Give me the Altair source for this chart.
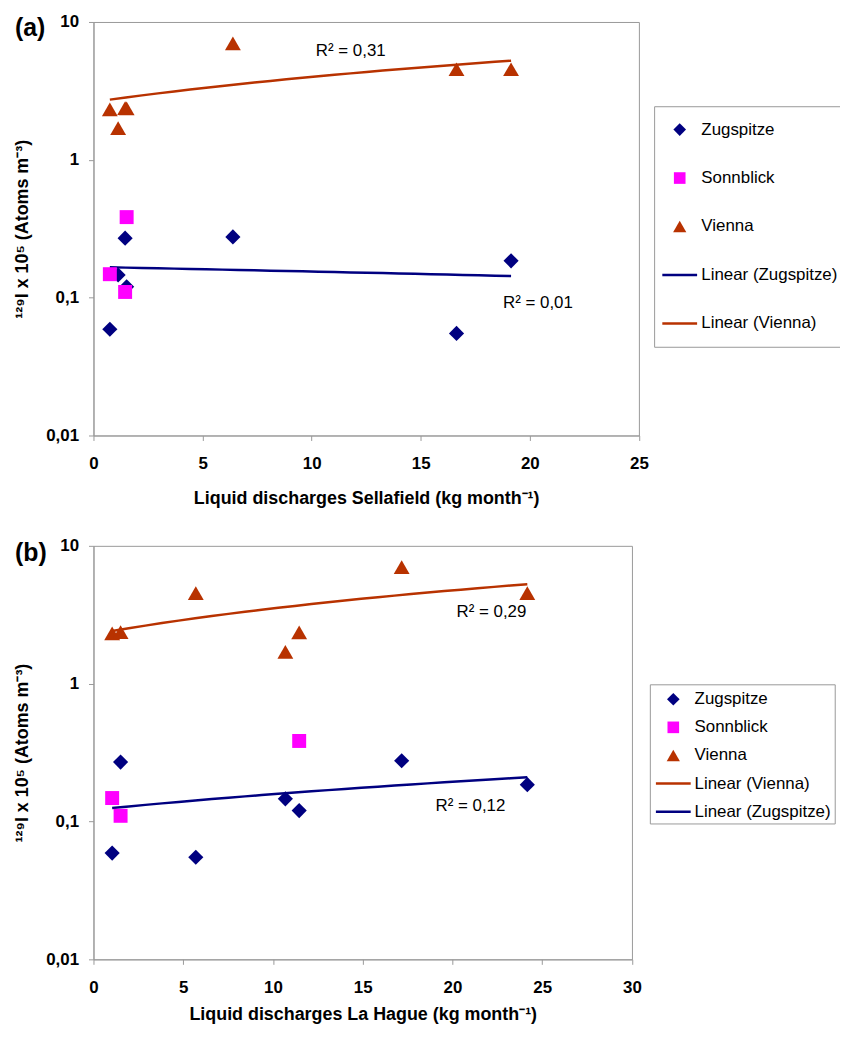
import altair as alt
import pandas as pd

# ---- data (same months in both panels) ----
sellafield = [0.75, 1.13, 1.52, 1.45, 6.39, 16.64, 19.14]   # kg month-1
la_hague = [1.04, 10.69, 11.46, 1.51, 17.17, 5.70, 24.17]   # kg month-1
zugspitze = [0.059, 0.146, 0.120, 0.270, 0.276, 0.055, 0.185]
sonnblick = [0.148, None, 0.384, 0.110, None, None, None]
vienna = [2.32, 1.70, 2.36, 2.37, 7.00, 4.54, 4.54]

stations = ["Zugspitze", "Sonnblick", "Vienna"]
station_values = [zugspitze, sonnblick, vienna]

order_a = ["Zugspitze", "Sonnblick", "Vienna", "Linear (Zugspitze)", "Linear (Vienna)"]
order_b = ["Zugspitze", "Sonnblick", "Vienna", "Linear (Vienna)", "Linear (Zugspitze)"]

r2_a_x = [11.79, 20.37]
r2_a_y = [6.15, 0.0912]
r2_a_txt = ["R² = 0,31", "R² = 0,01"]
r2_b_x = [22.17, 21.0]
r2_b_y = [3.30, 0.129]
r2_b_txt = ["R² = 0,29", "R² = 0,12"]

y_ticks = [0.01, 0.1, 1, 10]

COLORS = {
    "Zugspitze": "#000080",
    "Sonnblick": "#FF00FF",
    "Vienna": "#B83200",
    "Linear (Zugspitze)": "#000080",
    "Linear (Vienna)": "#B83200",
}
FONT = "Liberation Sans"
YTITLE = "¹²⁹I x 10⁵ (Atoms m⁻³)"


def symbol_paths(u):
    """Marker outlines in Vega's unit space, for a legend symbol radius u (px)."""
    d = 6.35 / u
    s = 5.85 / u
    tw, th = 6.65 / u, 5.75 / u
    ll, lt = 17.5 / u, 1.25 / u
    return {
        "Zugspitze": f"M0,{-d:.4f}L{d:.4f},0L0,{d:.4f}L{-d:.4f},0Z",
        "Sonnblick": f"M{-s:.4f},{-s:.4f}H{s:.4f}V{s:.4f}H{-s:.4f}Z",
        "Vienna": f"M0,{-th:.4f}L{tw:.4f},{th:.4f}H{-tw:.4f}Z",
        "line": f"M{-ll:.4f},{-lt:.4f}H{ll:.4f}V{lt:.4f}H{-ll:.4f}Z",
    }


def panel(xvals, xmax, width, xtitle, xtitle_pad, letter, letter_x, letter_y, order,
          lx, ly, u, pad, row_pad, sym_off, lab_off, r2x, r2y, r2t):
    rows = []
    for name, vals in zip(stations, station_values):
        for xv, yv in zip(xvals, vals):
            if yv is not None:
                rows.append({"x": xv, "y": yv, "series": name})
    df = pd.DataFrame(rows)

    paths = symbol_paths(u)
    shape_range = [paths.get(n, paths["line"]) for n in order]
    color_range = [COLORS[n] for n in order]

    x_enc = alt.X("x:Q", title=xtitle,
                  scale=alt.Scale(domain=[0, xmax], nice=False, zero=False),
                  axis=alt.Axis(values=list(range(0, xmax + 1, 5)), labelFlush=False,
                                titlePadding=xtitle_pad))
    y_enc = alt.Y("y:Q", title=YTITLE,
                  scale=alt.Scale(type="log", domain=[0.01, 10], nice=False),
                  axis=alt.Axis(values=y_ticks,
                                labelExpr="replace(toString(datum.value), '.', ',')"))

    leg = alt.Legend(orient="none", legendX=lx, legendY=ly, title=None,
                     padding=pad, symbolSize=(2 * u) ** 2, rowPadding=row_pad,
                     symbolOffset=sym_off, labelOffset=lab_off,
                     labelFont=FONT, labelFontSize=17, labelColor="black",
                     labelLimit=400, symbolStrokeWidth=0,
                     strokeColor="#999999", fillColor="white")

    trend_order = [n for n in order if n.startswith("Linear")]
    trend = (
        alt.Chart(df)
        .transform_filter(alt.FieldOneOfPredicate(field="series", oneOf=["Zugspitze", "Vienna"]))
        .transform_regression("x", "y", groupby=["series"], method="poly", order=1)
        .transform_calculate(trend="'Linear (' + datum.series + ')'")
        .mark_line(strokeWidth=2.5)
        .encode(x=x_enc, y=y_enc,
                stroke=alt.Stroke("trend:N",
                                  scale=alt.Scale(domain=trend_order,
                                                  range=[COLORS[n] for n in trend_order]),
                                  legend=None))
    )

    pts = (
        alt.Chart(df)
        .mark_point(filled=True, size=(2.4 * u) ** 2, opacity=1, strokeWidth=0)
        .encode(x=x_enc, y=y_enc,
                color=alt.Color("series:N", scale=alt.Scale(domain=order, range=color_range), legend=leg),
                shape=alt.Shape("series:N", scale=alt.Scale(domain=order, range=shape_range), legend=leg))
    )

    r2 = (
        alt.Chart(pd.DataFrame({"x": r2x, "y": r2y, "label": r2t}))
        .mark_text(font=FONT, fontSize=17, align="center", baseline="middle", color="black")
        .encode(x=x_enc, y=y_enc, text="label:N")
    )

    lab = (
        alt.Chart(pd.DataFrame({"label": [letter]}))
        .mark_text(font=FONT, fontSize=25, fontWeight="bold", align="left",
                   baseline="alphabetic", color="black")
        .encode(x=alt.value(letter_x), y=alt.value(letter_y), text="label:N")
    )

    return (alt.layer(trend, pts, r2, lab)
            .properties(width=width, height=416)
            .resolve_scale(color="independent", shape="independent", stroke="independent"))


chart_a = panel(sellafield, 25, 548.7, "Liquid discharges Sellafield (kg month⁻¹)", 18,
                "(a)", -79, 14.2, order_a,
                564, 84.75, 8, 15, 30.75, 2.25, 13.25, r2_a_x, r2_a_y, r2_a_txt)
chart_b = panel(la_hague, 30, 541.7, "Liquid discharges La Hague (kg month⁻¹)", 11,
                "(b)", -79, 15.7, order_b,
                559.7, 139.3, 12, 3, 8.3, 8.6, 9.4, r2_b_x, r2_b_y, r2_b_txt)

chart = (
    alt.concat(chart_a, chart_b, columns=1, spacing=28)
    .resolve_scale(color="independent", shape="independent", stroke="independent",
                   x="independent", y="independent")
    .resolve_legend(color="independent", shape="independent")
    .properties(padding={"left": 5, "top": 1, "right": -14, "bottom": 0})
    .configure_view(stroke="#999999", strokeWidth=1)
    .configure_axis(domainColor="#999999", tickColor="#999999", tickSize=5,
                    domainWidth=1, tickWidth=1, grid=False,
                    labelFont=FONT, labelFontSize=17, labelFontWeight="bold", labelColor="black",
                    titleFont=FONT, titleFontSize=18, titleFontWeight="bold", titleColor="black",
                    labelOverlap=False)
    .configure_axisX(labelPadding=15)
    .configure_axisY(labelPadding=10, titlePadding=14)
)

chart.save("out.html", embed_options={"renderer": "svg", "actions": False})
